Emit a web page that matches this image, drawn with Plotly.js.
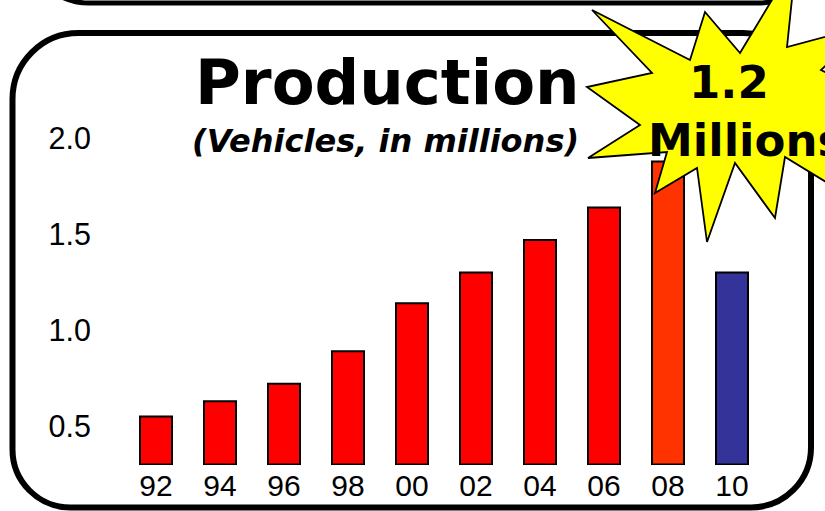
<!DOCTYPE html>
<html><head><meta charset="utf-8">
<script src="https://cdn.plot.ly/plotly-3.0.1.min.js"></script>
<style>html,body{margin:0;padding:0;background:#fff}#chart{width:825px;height:511px}</style>
</head><body><div id="chart"></div>
<script>
// ---- data ----
const years = ['92','94','96','98','00','02','04','06','08','10'];
const production = [0.55, 0.63, 0.72, 0.89, 1.14, 1.30, 1.47, 1.64, 1.88, 1.30];
const barColors = ['#FF0000','#FF0000','#FF0000','#FF0000','#FF0000','#FF0000','#FF0000','#FF0000','#FF3300','#333399'];
const axisBase = 0.3;
const yTicks = [0.5, 1.0, 1.5, 2.0];
const yTickLabels = ['0.5', '1.0', '1.5', '2.0'];
const titleText = 'Production';
const subtitleText = '(Vehicles, in millions)';
const burstTop = '1.2';
const burstBottom = 'Millions';

// ---- layout geometry (page pixels) ----
const W = 825, H = 511;
const M = {l: 124, r: 61, t: 100, b: 46};
const PW = W - M.l - M.r, PH = H - M.t - M.b;
const plotBottom = H - M.b;
const px = X => (X - M.l) / PW;           // page px -> paper x
const py = Y => (plotBottom - Y) / PH;    // page px -> paper y
const P = (X, Y) => (X - M.l).toFixed(1) + ',' + (plotBottom - Y).toFixed(1); // pixel-mode shape coords

function roundRect(x0, y0, x1, y1, rTL, rTR, rBR, rBL) {
  const k = 0.5523;
  return 'M' + P(x0 + rTL, y0) +
    ' L' + P(x1 - rTR, y0) +
    ' C' + P(x1 - rTR + rTR * k, y0) + ' ' + P(x1, y0 + rTR - rTR * k) + ' ' + P(x1, y0 + rTR) +
    ' L' + P(x1, y1 - rBR) +
    ' C' + P(x1, y1 - rBR + rBR * k) + ' ' + P(x1 - rBR + rBR * k, y1) + ' ' + P(x1 - rBR, y1) +
    ' L' + P(x0 + rBL, y1) +
    ' C' + P(x0 + rBL - rBL * k, y1) + ' ' + P(x0, y1 - rBL + rBL * k) + ' ' + P(x0, y1 - rBL) +
    ' L' + P(x0, y0 + rTL) +
    ' C' + P(x0, y0 + rTL - rTL * k) + ' ' + P(x0 + rTL - rTL * k, y0) + ' ' + P(x0 + rTL, y0) + ' Z';
}

const starPts = [
  [592, 10], [690, 60], [705, 12], [740, 53], [796, -40], [787, 47], [870, 25], [821, 70],
  [900, 110], [850, 150], [880, 215], [785, 157], [775, 218], [735, 163], [707, 242],
  [697, 168], [655, 193], [667, 152], [588, 158], [640, 125], [587, 87], [652, 73]
];
const starPath = 'M' + starPts.map(p => P(p[0], p[1])).join(' L') + ' Z';

const pixelShape = (path, extra) => Object.assign({
  type: 'path', xref: 'paper', yref: 'paper',
  xsizemode: 'pixel', ysizemode: 'pixel', xanchor: 0, yanchor: 0, path: path
}, extra);

const trace = {
  type: 'bar',
  x: years,
  y: production.map(v => v - axisBase),
  base: axisBase,
  marker: {color: barColors, line: {color: '#000', width: 2}},
  hoverinfo: 'skip'
};

const layout = {
  width: W, height: H,
  margin: M,
  paper_bgcolor: '#fff', plot_bgcolor: '#fff',
  showlegend: false,
  bargap: 0.5,
  xaxis: {
    type: 'category', range: [-0.5, 9.5], showgrid: false, zeroline: false, showline: false,
    ticks: '', tickfont: {family: 'Liberation Sans, Arial, sans-serif', size: 30, color: '#000'},
    ticklabelstandoff: 0
  },
  yaxis: {
    range: [0.297, 2.2], showgrid: false, zeroline: false, showline: false,
    tickvals: yTicks, ticktext: yTickLabels, ticks: '',
    tickfont: {family: 'Liberation Sans, Arial, sans-serif', size: 30.5, color: '#000'},
    ticklabelstandoff: 32
  },
  shapes: [
    pixelShape(roundRect(27, -120, 820, 3, 62, 62, 62, 62), {line: {color: '#000', width: 5}, layer: 'below'}),
    pixelShape(roundRect(12.5, 33, 811, 507.5, 66, 68, 60, 58), {line: {color: '#000', width: 6}, layer: 'below'}),
    pixelShape(starPath, {fillcolor: '#FFFF00', line: {color: '#000', width: 1.8}, layer: 'above'})
  ],
  annotations: [
    {text: titleText, xref: 'paper', yref: 'paper', x: px(387.5), y: py(82.5), xanchor: 'center', yanchor: 'middle',
     showarrow: false, font: {family: 'DejaVu Sans', size: 62.5, weight: 'bold', color: '#000'}},
    {text: subtitleText, xref: 'paper', yref: 'paper', x: px(385.5), y: py(141), xanchor: 'center', yanchor: 'middle',
     showarrow: false, font: {family: 'DejaVu Sans', size: 32, weight: 'bold', style: 'italic', color: '#000'}},
    {text: burstTop, xref: 'paper', yref: 'paper', x: px(729), y: py(82.5), xanchor: 'center', yanchor: 'middle',
     showarrow: false, font: {family: 'DejaVu Sans', size: 45, weight: 'bold', color: '#000'}},
    {text: burstBottom, xref: 'paper', yref: 'paper', x: px(646), y: py(140), xanchor: 'left', yanchor: 'middle',
     showarrow: false, font: {family: 'DejaVu Sans', size: 45, weight: 'bold', color: '#000'}}
  ]
};

Plotly.newPlot('chart', [trace], layout, {displayModeBar: false, staticPlot: true});
</script>
</body></html>
